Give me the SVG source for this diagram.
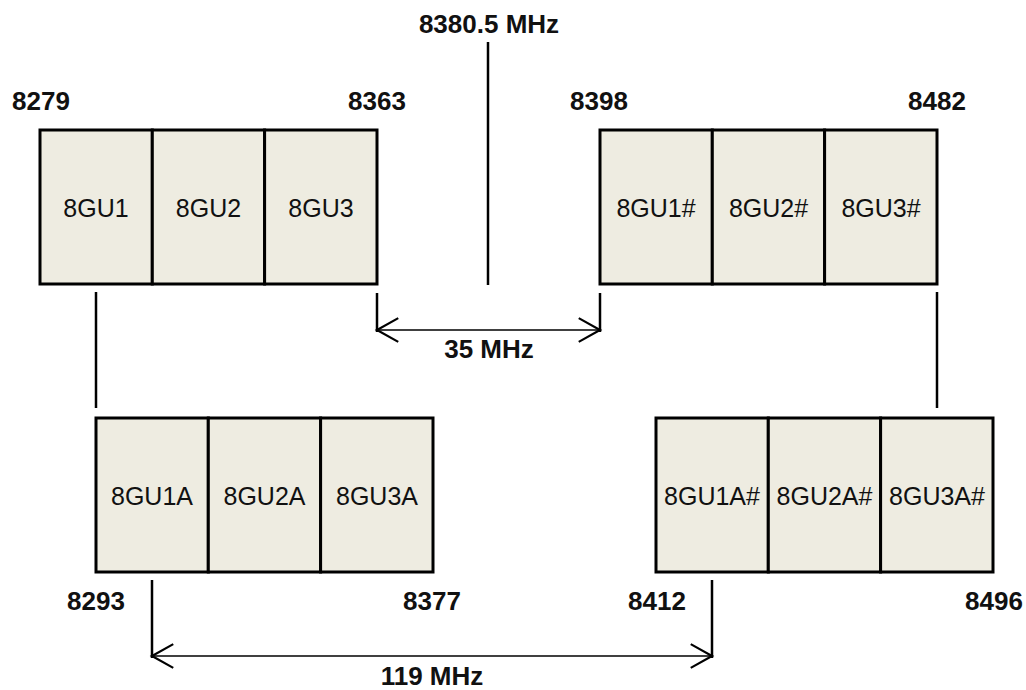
<svg xmlns="http://www.w3.org/2000/svg" width="1026" height="690" viewBox="0 0 1026 690">
<style>
.cell{fill:#EEECE1;stroke:#000;stroke-width:3}
.lbl{font-family:"Liberation Sans",Arial,sans-serif;font-size:25px;fill:#111;text-anchor:middle}
.freq{font-family:"Liberation Sans",Arial,sans-serif;font-size:26px;font-weight:bold;fill:#111}
.ln{stroke:#000;stroke-width:2.5;fill:none}
.dim{stroke:#000;stroke-width:1.5;fill:none}
</style>
<defs>
<marker id="v" markerUnits="userSpaceOnUse" markerWidth="30" markerHeight="30" viewBox="-20 -12 24 24" refX="0" refY="0" orient="auto-start-reverse" overflow="visible">
<path d="M-17,-9.5 L0,0 L-17,9.5" fill="none" stroke="#000" stroke-width="1.8"/>
</marker>
</defs>
<rect width="1026" height="690" fill="#fff"/>
<g id="connectors">
<line class="ln" x1="488" y1="42" x2="488" y2="285"/>
<line class="ln" x1="96" y1="292" x2="96" y2="408"/>
<line class="ln" x1="937" y1="292" x2="937" y2="408"/>
<line class="ln" x1="377" y1="293" x2="377" y2="332"/>
<line class="ln" x1="600" y1="293" x2="600" y2="332"/>
<line class="dim" x1="377" y1="330" x2="600" y2="330" marker-start="url(#v)" marker-end="url(#v)"/>
<line class="ln" x1="152" y1="580" x2="152" y2="658"/>
<line class="ln" x1="712" y1="580" x2="712" y2="658"/>
<line class="dim" x1="152" y1="656" x2="712" y2="656" marker-start="url(#v)" marker-end="url(#v)"/>
</g>
<g id="box-top-left">
<rect class="cell" x="40" y="130" width="112.3" height="154"/>
<rect class="cell" x="152.3" y="130" width="112.3" height="154"/>
<rect class="cell" x="264.6" y="130" width="112.4" height="154"/>
<text class="lbl" x="96" y="217">8GU1</text>
<text class="lbl" x="208.5" y="217">8GU2</text>
<text class="lbl" x="321" y="217">8GU3</text>
</g>
<g id="box-top-right">
<rect class="cell" x="600" y="130" width="112.3" height="154"/>
<rect class="cell" x="712.3" y="130" width="112.3" height="154"/>
<rect class="cell" x="824.6" y="130" width="112.4" height="154"/>
<text class="lbl" x="656" y="217">8GU1#</text>
<text class="lbl" x="768.5" y="217">8GU2#</text>
<text class="lbl" x="881" y="217">8GU3#</text>
</g>
<g id="box-bottom-left">
<rect class="cell" x="96" y="418" width="112.3" height="154"/>
<rect class="cell" x="208.3" y="418" width="112.3" height="154"/>
<rect class="cell" x="320.6" y="418" width="112.4" height="154"/>
<text class="lbl" x="152" y="505">8GU1A</text>
<text class="lbl" x="264.5" y="505">8GU2A</text>
<text class="lbl" x="377" y="505">8GU3A</text>
</g>
<g id="box-bottom-right">
<rect class="cell" x="656" y="418" width="112.3" height="154"/>
<rect class="cell" x="768.3" y="418" width="112.3" height="154"/>
<rect class="cell" x="880.6" y="418" width="112.4" height="154"/>
<text class="lbl" x="712" y="505">8GU1A#</text>
<text class="lbl" x="824.5" y="505">8GU2A#</text>
<text class="lbl" x="937" y="505">8GU3A#</text>
</g>
<g id="labels">
<text class="freq" x="489" y="33" text-anchor="middle">8380.5 MHz</text>
<text class="freq" x="12" y="110">8279</text>
<text class="freq" x="348" y="110">8363</text>
<text class="freq" x="570" y="110">8398</text>
<text class="freq" x="908" y="110">8482</text>
<text class="freq" x="489" y="358" text-anchor="middle">35 MHz</text>
<text class="freq" x="67" y="610">8293</text>
<text class="freq" x="403" y="610">8377</text>
<text class="freq" x="628" y="610">8412</text>
<text class="freq" x="965" y="610">8496</text>
<text class="freq" x="432" y="685" text-anchor="middle">119 MHz</text>
</g>
</svg>
